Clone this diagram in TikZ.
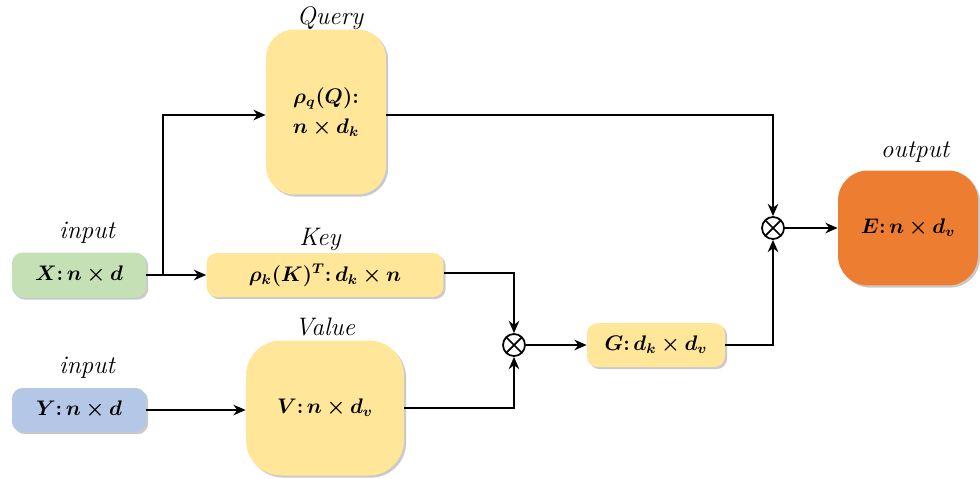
\documentclass[tikz,border=0pt]{standalone}
\usepackage{amsmath,bm}
\usetikzlibrary{arrows.meta,shadows,calc}
\definecolor{boxyellow}{HTML}{FFE699}
\definecolor{boxgreen}{HTML}{C5E0B4}
\definecolor{boxblue}{HTML}{B4C7E7}
\definecolor{boxorange}{HTML}{ED7D31}
\newcommand{\cln}{{:}\,}
\tikzset{
  px/.style={x=0.02cm,y=-0.02cm},
  blk/.style={rounded corners=#1, draw=none, align=center, inner sep=0pt,
     drop shadow={shadow xshift=1.2pt,shadow yshift=-1.2pt,opacity=0.35,fill=black!60}, font=\large},
  lbl/.style={font=\itshape\Large},
  conn/.style={line width=1pt, -{Stealth[length=7pt,width=6pt]}},
  otim/.style={circle, draw, line width=1pt, minimum size=0.44cm, inner sep=0pt,
     path picture={\draw[line width=1pt] (path picture bounding box.north west)--(path picture bounding box.south east)
       (path picture bounding box.north east)--(path picture bounding box.south west);}}
}
\begin{document}
\begin{tikzpicture}[px]
\useasboundingbox (0,0) rectangle (980,478);
% boxes
\node[blk=16pt, fill=boxyellow, minimum width=2.4cm, minimum height=3.3cm] (q) at (326,112) {$\bm{\rho_q(Q){:}}$\\[3pt]$\bm{n\times d_k}$};
\node[blk=6pt, fill=boxgreen, minimum width=2.68cm, minimum height=0.9cm] (x) at (79,275) {$\bm{X\cln n\times d}$};
\node[blk=6pt, fill=boxyellow, minimum width=4.74cm, minimum height=0.88cm] (k) at (325,275) {$\bm{\rho_k(K)^T\cln d_k\times n}$};
\node[blk=20pt, fill=boxyellow, minimum width=3.16cm, minimum height=2.7cm] (v) at (325,408) {$\bm{V\cln n\times d_v}$};
\node[blk=6pt, fill=boxblue, minimum width=2.68cm, minimum height=0.88cm] (y) at (79,410) {$\bm{Y\cln n\times d}$};
\node[blk=6pt, fill=boxyellow, minimum width=2.76cm, minimum height=0.88cm] (g) at (656,345) {$\bm{G\cln d_k\times d_v}$};
\node[blk=17pt, fill=boxorange, minimum width=2.8cm, minimum height=2.3cm] (e) at (908,228) {$\bm{E\cln n\times d_v}$};
\node[otim] (m1) at (514,345) {};
\node[otim] (m2) at (773,228) {};
% labels
\node[lbl] (lq) at (330,18) {Query};
\node[lbl] (lx) at (87,233) {input};
\node[lbl] (lk) at (320,239) {Key};
\node[lbl] (lv) at (325,327) {Value};
\node[lbl] (ly) at (87,368) {input};
\node[lbl] (le) at (915,152) {output};
% connectors
\coordinate (br) at (163,275);
\draw[conn] (x.east) -- (k.west);
\draw[conn] (br) |- ($(q.west)+(0,3)$);
\draw[conn] ($(q.east)+(0,3)$) -| (m2.north);
\draw[conn] ($(k.east)+(0,-2)$) -| (m1.north);
\draw[conn] (v.east) -| (m1.south);
\draw[conn] (y.east) -- (v.west |- y.east);
\draw[conn] (m1.east) -- (g.west);
\draw[conn] (g.east) -| (m2.south);
\draw[conn] (m2.east) -- (e.west);
\end{tikzpicture}
\end{document}
